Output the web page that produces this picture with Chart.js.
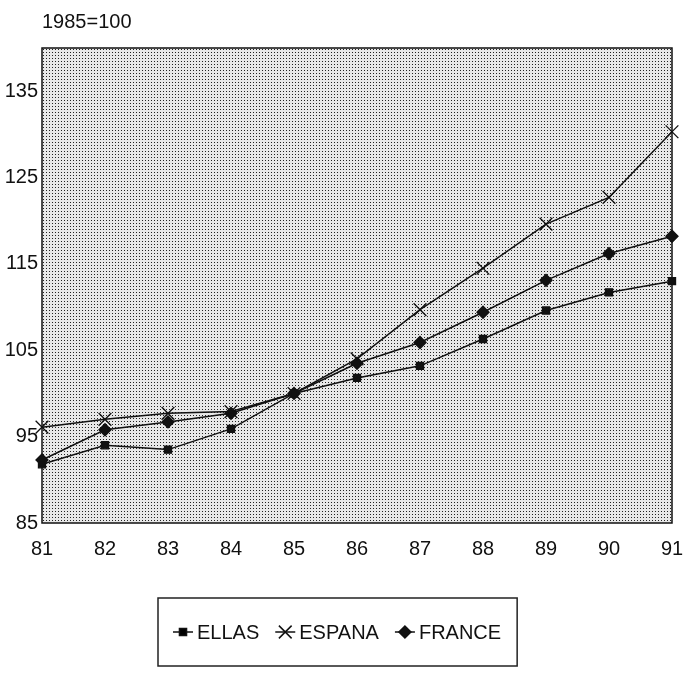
<!DOCTYPE html>
<html>
<head>
<meta charset="utf-8">
<script src="https://cdn.jsdelivr.net/npm/chart.js@4"></script>
<style>
  html, body { margin:0; padding:0; background:#fff; }
  #wrap { position:relative; width:691px; height:674px; }
</style>
</head>
<body>
<div id="wrap"><canvas id="chart" width="691" height="674"></canvas></div>
<script>
'use strict';

// --- data (index, 1985 = 100) ---
const years   = ['81','82','83','84','85','86','87','88','89','90','91'];
const ellas   = [91.8, 94.0, 93.5, 95.9, 100, 101.8, 103.2, 106.3, 109.6, 111.7, 113.0];
const espana  = [96.1, 97.0, 97.7, 97.9, 100, 104.0, 109.7, 114.5, 119.6, 122.7, 130.3];
const france  = [92.3, 95.8, 96.7, 97.7, 100, 103.5, 105.9, 109.4, 113.1, 116.2, 118.2];
const yTicks  = [85, 95, 105, 115, 125, 135];
const seriesNames = ['ELLAS', 'ESPANA', 'FRANCE'];

const SANS = '"Liberation Sans", Arial, sans-serif';

// dotted fill for the plot area
function dotPattern(ctx) {
  const t = document.createElement('canvas');
  t.width = 3; t.height = 3;
  const c = t.getContext('2d');
  c.fillStyle = '#e8e8e8';
  c.fillRect(0, 0, 3, 3);
  c.fillStyle = '#222';
  c.fillRect(1, 1, 1, 1);
  return ctx.createPattern(t, 'repeat');
}

const plotFrame = {
  id: 'plotFrame',
  beforeDatasetsDraw(chart) {
    const { ctx, chartArea: a } = chart;
    ctx.save();
    ctx.fillStyle = dotPattern(ctx);
    ctx.fillRect(a.left, a.top, a.right - a.left, a.bottom - a.top);
    ctx.strokeStyle = '#111';
    ctx.lineWidth = 1.5;
    ctx.strokeRect(a.left, a.top, a.right - a.left, a.bottom - a.top);
    ctx.restore();
  },
  afterDraw(chart) {
    const { ctx } = chart;
    ctx.save();
    ctx.fillStyle = '#111';
    ctx.font = '20px ' + SANS;
    ctx.textBaseline = 'alphabetic';
    ctx.fillText('1985=100', 42, 28);
    ctx.restore();
  }
};

// legend in a box, each entry shows a line stub with its marker
const boxLegend = {
  id: 'boxLegend',
  afterDraw(chart) {
    const { ctx } = chart;
    const left = 158, top = 598, h = 68;
    const cy = top + h / 2;
    ctx.save();
    ctx.font = '20px ' + SANS;
    ctx.textBaseline = 'middle';
    let x = left + 15;
    chart.data.datasets.forEach((ds) => {
      ctx.strokeStyle = '#111';
      ctx.lineWidth = 1.5;
      ctx.beginPath();
      ctx.moveTo(x, cy); ctx.lineTo(x + 20, cy);
      ctx.stroke();
      Chart.helpers.drawPoint(ctx, {
        pointStyle: ds.pointStyle,
        radius: ds.pointRadius,
        borderWidth: 1.2
      }, x + 10, cy);
      x += 24;
      ctx.fillStyle = '#111';
      ctx.fillText(ds.label, x, cy + 1);
      x += ctx.measureText(ds.label).width + 16;
    });
    const w = x - left;
    ctx.strokeStyle = '#222';
    ctx.lineWidth = 1.5;
    ctx.strokeRect(left, top, w, h);
    ctx.restore();
  }
};

function line(label, data, style, r) {
  return {
    label, data,
    borderColor: '#111',
    backgroundColor: '#111',
    pointBackgroundColor: '#111',
    pointBorderColor: '#111',
    borderWidth: 1.5,
    pointStyle: style,
    pointRadius: r,
    pointBorderWidth: 1.3,
    tension: 0
  };
}

new Chart(document.getElementById('chart'), {
  type: 'line',
  data: {
    labels: years,
    datasets: [
      line(seriesNames[0], ellas, 'rect', 5),
      line(seriesNames[1], espana, 'crossRot', 9),
      line(seriesNames[2], france, 'rectRot', 6)
    ]
  },
  options: {
    responsive: false,
    animation: false,
    devicePixelRatio: 1,
    layout: { padding: { top: 48, right: 19, bottom: 111, left: 0 } },
    plugins: { legend: { display: false }, tooltip: { enabled: false } },
    scales: {
      x: {
        offset: false,
        grid: { display: false, drawTicks: false },
        border: { display: false },
        ticks: { color: '#111', font: { family: SANS, size: 20 }, padding: 14, maxRotation: 0 },
        afterFit(s) { s.height = 40; s.paddingLeft = 0; s.paddingRight = 0; }
      },
      y: {
        min: 85, max: 140,
        grid: { display: false, drawTicks: false },
        border: { display: false },
        ticks: { color: '#111', font: { family: SANS, size: 20 }, padding: 4 },
        afterBuildTicks(s) { s.ticks = yTicks.map(v => ({ value: v })); },
        afterFit(s) { s.width = 42; }
      }
    }
  },
  plugins: [plotFrame, boxLegend]
});
</script>
</body>
</html>
